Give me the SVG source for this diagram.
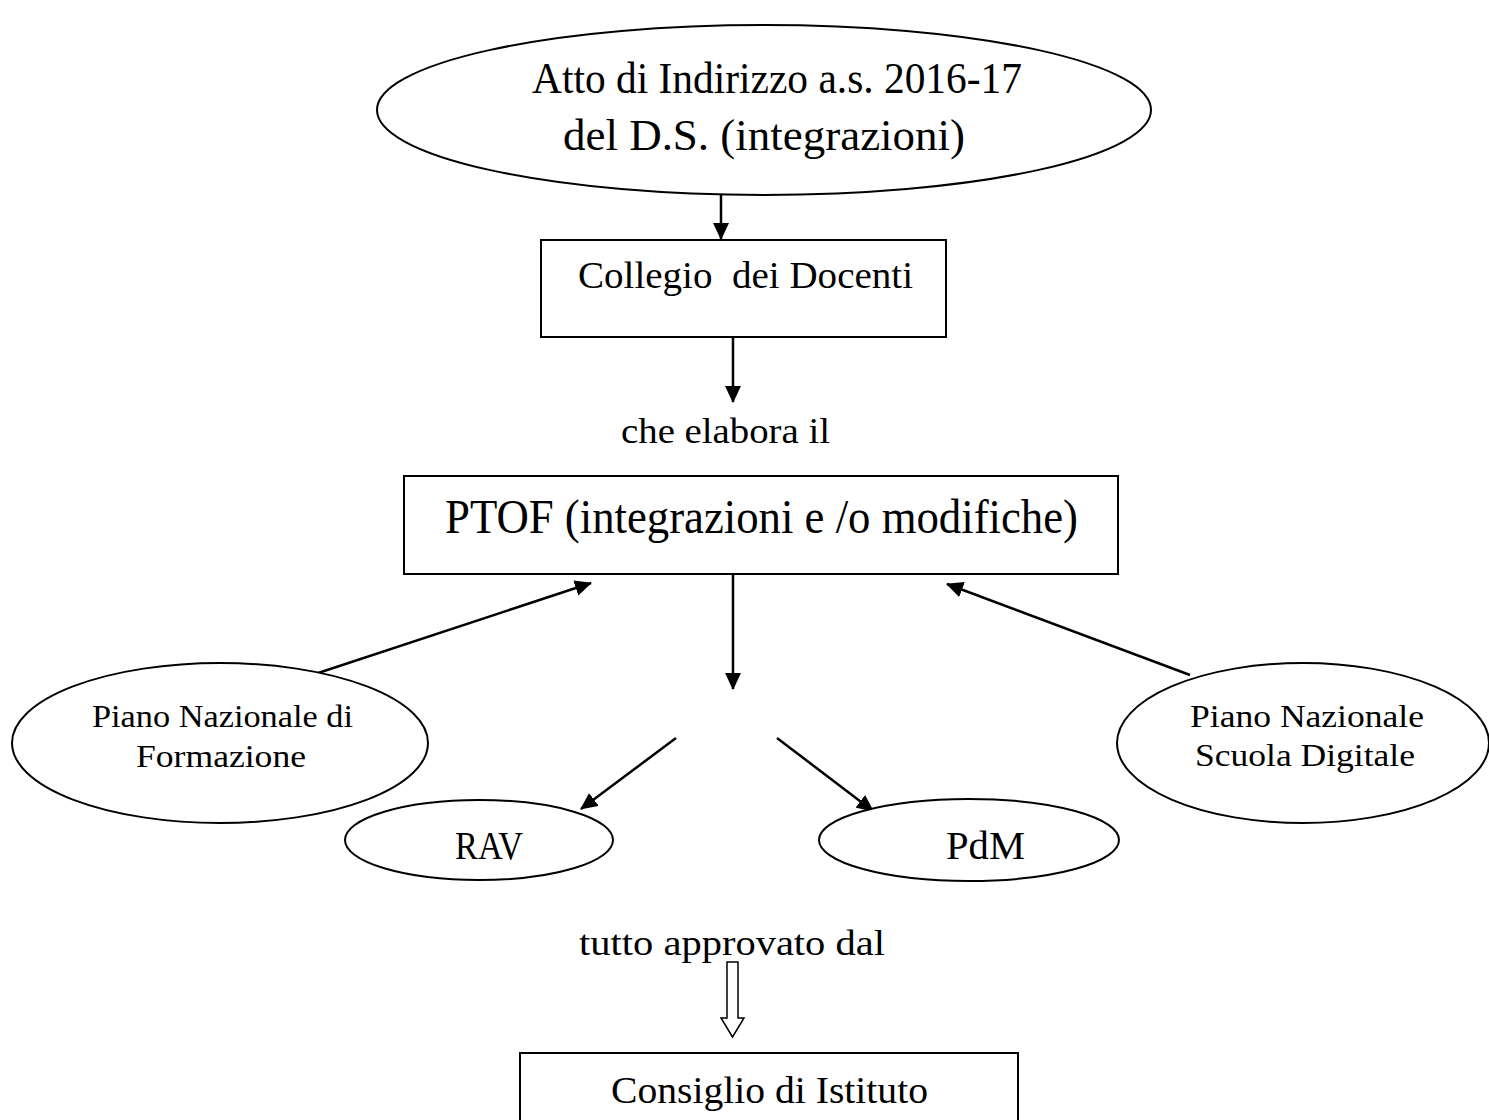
<svg xmlns="http://www.w3.org/2000/svg" width="1489" height="1120" viewBox="0 0 1489 1120">
<style>
.shape{fill:#fff;stroke:#000;stroke-width:2}
.deco{font-family:"Liberation Serif","DejaVu Serif",serif;fill:#000}
.plain{font-family:"Liberation Serif","DejaVu Serif",serif;fill:#000;font-size:36px}
.conn{stroke:#000;stroke-width:2.5;fill:none;marker-end:url(#ah)}
</style>
<defs>
<marker id="ah" markerUnits="userSpaceOnUse" markerWidth="17" markerHeight="16" refX="16" refY="8" orient="auto">
<path d="M0,0 L17,8 L0,16 Z" fill="#000"/>
</marker>
</defs>
<rect width="1489" height="1120" fill="#fff"/>
<g id="connectors">
<line class="conn" x1="721" y1="195" x2="721" y2="239"/>
<line class="conn" x1="733" y1="337" x2="733" y2="402"/>
<line class="conn" x1="733" y1="574" x2="733" y2="689"/>
<line class="conn" x1="306" y1="677" x2="591" y2="583"/>
<line class="conn" x1="1190" y1="675" x2="947" y2="584"/>
<line class="conn" x1="676" y1="738" x2="581" y2="809"/>
<line class="conn" x1="777" y1="738" x2="873" y2="811"/>
<path d="M727,962 L738,962 L738,1018 L744,1018 L732.5,1037 L721,1018 L727,1018 Z" fill="#fff" stroke="#000" stroke-width="1.5"/>
</g>
<g id="atto">
<ellipse class="shape" cx="764" cy="110" rx="387" ry="85"/>
<text class="deco" x="777" y="93" font-size="45" text-anchor="middle" textLength="490" lengthAdjust="spacingAndGlyphs">Atto di Indirizzo a.s. 2016-17</text>
<text class="deco" x="764" y="150" font-size="45" text-anchor="middle" textLength="402" lengthAdjust="spacingAndGlyphs">del D.S. (integrazioni)</text>
</g>
<g id="collegio">
<rect class="shape" x="541" y="240" width="405" height="97"/>
<text class="deco" x="578" y="288" font-size="37" textLength="335" lengthAdjust="spacingAndGlyphs" xml:space="preserve">Collegio  dei Docenti</text>
</g>
<g id="elabora">
<text class="plain" x="621" y="443" textLength="209" lengthAdjust="spacingAndGlyphs">che elabora il</text>
</g>
<g id="ptof">
<rect class="shape" x="404" y="476" width="714" height="98"/>
<text class="deco" x="445" y="533" font-size="48" textLength="633" lengthAdjust="spacingAndGlyphs">PTOF (integrazioni e /o modifiche)</text>
</g>
<g id="pnf">
<ellipse class="shape" cx="220" cy="743" rx="208" ry="80"/>
<text class="deco" x="92" y="727" font-size="32" textLength="261" lengthAdjust="spacingAndGlyphs">Piano Nazionale di</text>
<text class="deco" x="136" y="767" font-size="32" textLength="170" lengthAdjust="spacingAndGlyphs">Formazione</text>
</g>
<g id="pnsd">
<ellipse class="shape" cx="1303" cy="743" rx="186" ry="80"/>
<text class="deco" x="1190" y="727" font-size="32" textLength="234" lengthAdjust="spacingAndGlyphs">Piano Nazionale</text>
<text class="deco" x="1195" y="766" font-size="32" textLength="220" lengthAdjust="spacingAndGlyphs">Scuola Digitale</text>
</g>
<g id="rav">
<ellipse class="shape" cx="479" cy="840" rx="134" ry="40"/>
<text class="deco" x="455" y="859" font-size="41" textLength="68" lengthAdjust="spacingAndGlyphs">RAV</text>
</g>
<g id="pdm">
<ellipse class="shape" cx="969" cy="840" rx="150" ry="41"/>
<text class="deco" x="946" y="859" font-size="41" textLength="79" lengthAdjust="spacingAndGlyphs">PdM</text>
</g>
<g id="approvato">
<text class="plain" x="579" y="955" textLength="306" lengthAdjust="spacingAndGlyphs">tutto approvato dal</text>
</g>
<g id="consiglio">
<rect class="shape" x="520" y="1053" width="498" height="80"/>
<text class="deco" x="611" y="1103" font-size="37" textLength="317" lengthAdjust="spacingAndGlyphs">Consiglio di Istituto</text>
</g>
</svg>
